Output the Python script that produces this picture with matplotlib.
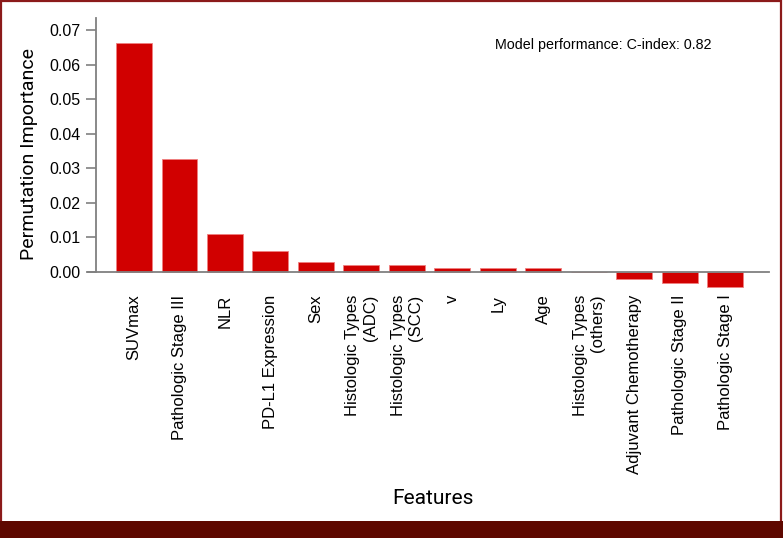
import numpy as np
import matplotlib
matplotlib.use("Agg")
import matplotlib.pyplot as plt
from matplotlib.patches import Rectangle

features = [
    "SUVmax", "Pathologic Stage III", "NLR", "PD-L1 Expression", "Sex",
    "Histologic Types\n(ADC)", "Histologic Types\n(SCC)", "v", "Ly", "Age",
    "Histologic Types\n(others)", "Adjuvant Chemotherapy",
    "Pathologic Stage II", "Pathologic Stage I",
]
importance = [0.0663, 0.0328, 0.0111, 0.0061, 0.0029, 0.0021, 0.0019,
              0.0012, 0.0012, 0.0011, 0.0001, -0.0021, -0.0032, -0.0043]
yticks = [0.00, 0.01, 0.02, 0.03, 0.04, 0.05, 0.06, 0.07]

plt.rcParams['font.family'] = ['Liberation Sans', 'DejaVu Sans']

fig = plt.figure(figsize=(7.83, 5.38), dpi=100)
ax = fig.add_axes([96 / 783, 1 - 289 / 538, (769 - 96) / 783, (289 - 18) / 538])

x = np.arange(len(features))
ax.bar(x, importance, width=0.79, color="#d10000", edgecolor="#f08080",
       linewidth=0.6, zorder=2)

ax.set_xlim(-0.835, 13.96)
ax.set_ylim(-0.0049, 0.0735)

# zero line (a bit past the left spine)
ax.plot([-1.0, 13.96], [0, 0], color="#808080", lw=1.3, clip_on=False, zorder=3)

for s in ["top", "right", "bottom"]:
    ax.spines[s].set_visible(False)
ax.spines["left"].set_color("#808080")
ax.spines["left"].set_linewidth(1.3)
ax.spines["left"].set_bounds(0, 0.0735)

ax.set_yticks(yticks)
ax.set_yticklabels([f"{v:.2f}" for v in yticks], fontsize=11.5)
ax.tick_params(axis="y", length=7, width=1.2, color="#808080", pad=4)

ax.set_xticks(x)
ax.set_xticklabels(features, rotation=90, fontsize=12, ha="center",
                   va="top", multialignment="right")
ax.tick_params(axis="x", length=0, pad=4)

lab_font = ['Roboto', 'DejaVu Sans']
ax.set_ylabel("Permutation Importance", fontsize=14, family=lab_font, labelpad=8)
ax.set_xlabel("Features", fontsize=15, family=lab_font)
ax.xaxis.set_label_coords(0.5, -0.737)

ax.text(0.915, 0.9, "Model performance: C-index: 0.82", transform=ax.transAxes,
        fontsize=10.3, ha="right", va="center")

# page frame
fig.patches.append(Rectangle((0.001, 0), 0.997, 0.998, transform=fig.transFigure,
                             fill=False, edgecolor="#8b1a1a", lw=1.6))
fig.patches.append(Rectangle((0, 0), 1, 17 / 538, transform=fig.transFigure,
                             facecolor="#5e0800", edgecolor="none"))

fig.savefig("out.png", dpi=100)
